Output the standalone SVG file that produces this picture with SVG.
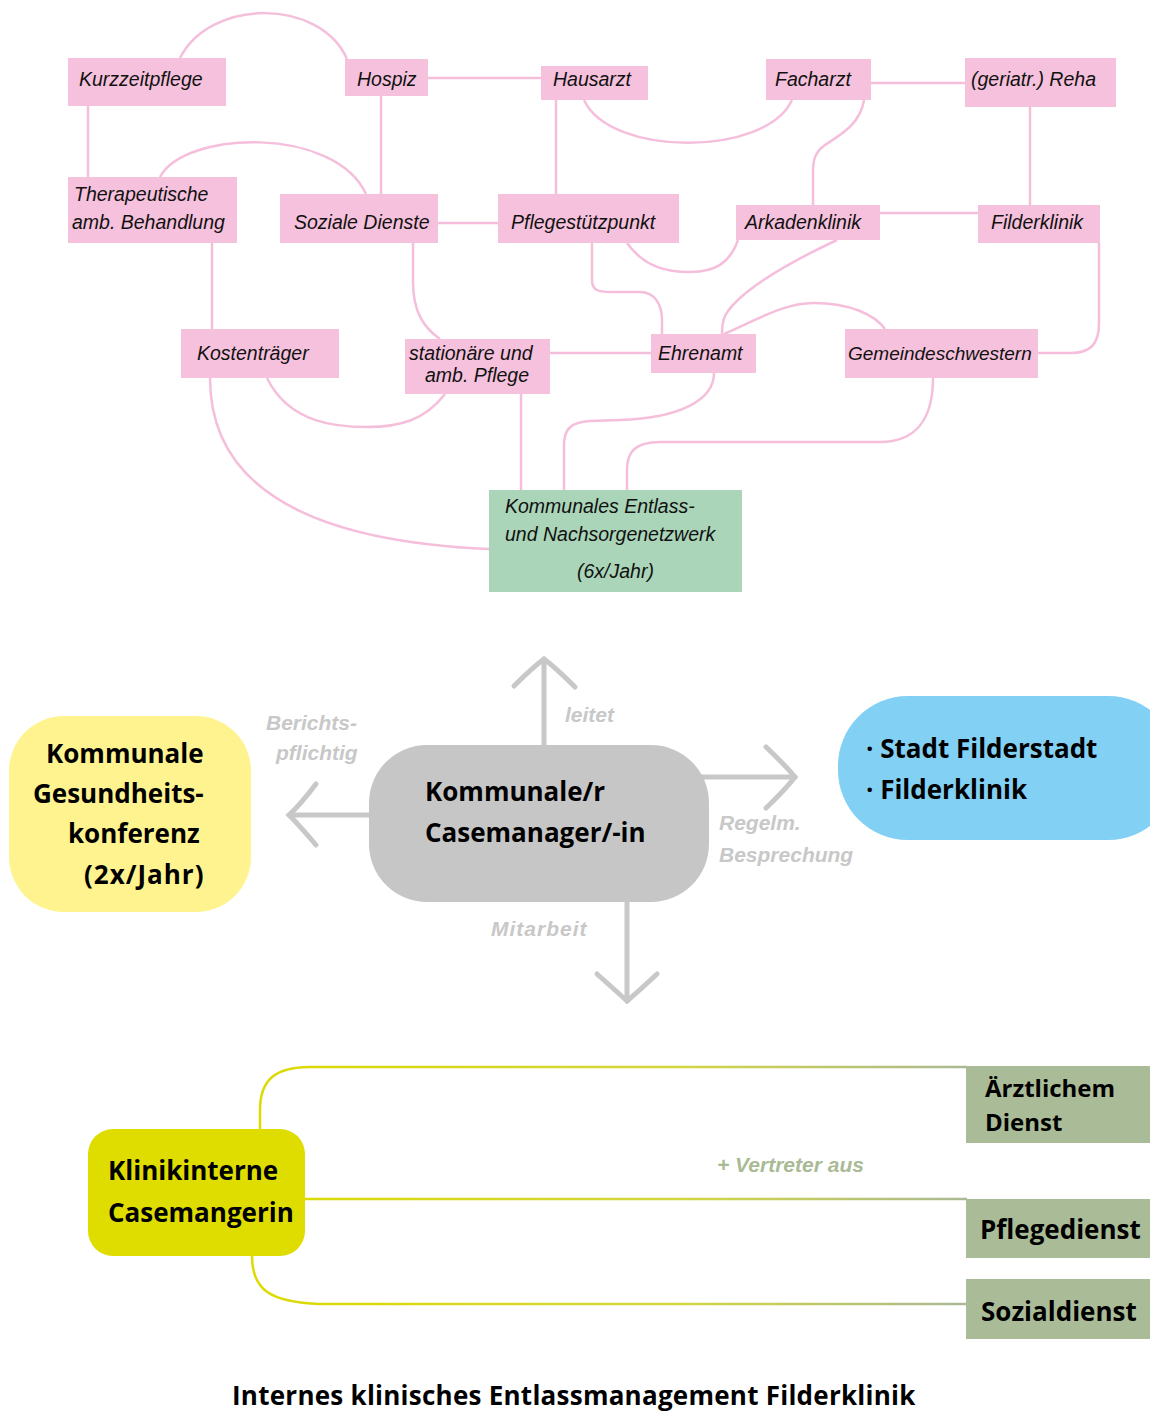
<svg xmlns="http://www.w3.org/2000/svg" width="1150" height="1414" viewBox="0 0 1150 1414">
<style>
.pk{fill:#f6c1dc}
.hw{font-family:"Liberation Sans",Arial,sans-serif;font-style:italic;font-size:19.5px;fill:#111}
.ln{fill:none;stroke:#f5bedb;stroke-width:2.5}
.gl{font-family:"Liberation Sans",Arial,sans-serif;font-style:italic;font-weight:bold;font-size:21px;fill:#c8c8c8}
.ar{fill:none;stroke:#c8c8c8;stroke-width:5;stroke-linecap:round}
.bt{font-family:"Open Sans","Noto Sans",sans-serif;font-weight:bold;font-size:26px;fill:#000}
.yl{fill:none;stroke:url(#yg);stroke-width:2.5}
.gg{fill:#aabb97}
</style>
<defs>
<linearGradient id="yg" gradientUnits="userSpaceOnUse" x1="260" y1="0" x2="967" y2="0">
<stop offset="0" stop-color="#dcda00"/>
<stop offset="0.6" stop-color="#d2d640"/>
<stop offset="1" stop-color="#aab995"/>
</linearGradient>
</defs>
<rect width="1150" height="1414" fill="#fff"/>

<g id="connectors">
<path class="ln" d="M180,58 C210,-2 320,-2 347,59"/>
<path class="ln" d="M88,106 L88,177"/>
<path class="ln" d="M428,78 L541,78"/>
<path class="ln" d="M381,96 L381,194"/>
<path class="ln" d="M160,177 C185,130 335,126 366,194"/>
<path class="ln" d="M212,243 L212,329"/>
<path class="ln" d="M438,223 L498,223"/>
<path class="ln" d="M413,243 L413,282 C413,312 424,328 440,339"/>
<path class="ln" d="M556,100 L556,194"/>
<path class="ln" d="M584,100 C610,157 766,157 792,100"/>
<path class="ln" d="M871,83 L965,83"/>
<path class="ln" d="M864,100 C860,125 840,135 825,145 C815,152 813,160 813,172 L813,205"/>
<path class="ln" d="M1030,107 L1030,205"/>
<path class="ln" d="M880,213 L978,213"/>
<path class="ln" d="M1099,243 L1099,323 C1099,345 1090,353 1070,353 L1038,353"/>
<path class="ln" d="M592,243 L592,280 C592,290 598,292 610,292 L640,292 C655,292 662,305 662,320 L662,334"/>
<path class="ln" d="M627,243 C645,268 668,272 690,272 C715,272 730,263 738,240"/>
<path class="ln" d="M837,240 C790,262 760,280 740,298 C725,312 722,318 722,334"/>
<path class="ln" d="M724,334 C760,318 785,303 814,303 C850,303 875,315 885,329"/>
<path class="ln" d="M550,353 L651,353"/>
<path class="ln" d="M267,378 C290,425 340,427 367,427 C400,427 425,420 445,394"/>
<path class="ln" d="M210,378 C210,470 280,540 489,549"/>
<path class="ln" d="M521,394 L521,490"/>
<path class="ln" d="M714,373 C714,400 680,418 620,420 L590,421 C570,422 564,430 564,445 L564,490"/>
<path class="ln" d="M933,378 C933,420 915,442 880,442 L660,442 C635,442 627,452 627,470 L627,490"/>

<path class="ar" d="M544,745 L544,659"/>
<path class="ar" d="M514,686 Q532,668 544,659 Q556,668 575,687"/>
<path class="ar" d="M369,815 L289,815"/>
<path class="ar" d="M316,784 Q300,805 289,815 Q300,826 316,845"/>
<path class="ar" d="M699,777 L795,777"/>
<path class="ar" d="M766,747 Q785,765 795,777 Q785,790 766,808"/>
<path class="ar" d="M627,902 L627,1001"/>
<path class="ar" d="M597,974 Q615,990 627,1001 Q640,990 657,974"/>

<path class="yl" d="M260,1129 L260,1110 C260,1080 275,1067 310,1067 L967,1067"/>
<path class="yl" d="M305,1199 L967,1199"/>
<path class="yl" d="M252,1256 C252,1290 270,1302 320,1304 L967,1304"/>
</g>

<g id="n-kurzzeitpflege"><rect class="pk" x="68" y="58" width="158" height="48"/><text class="hw" x="79" y="86">Kurzzeitpflege</text></g>
<g id="n-hospiz"><rect class="pk" x="345" y="59" width="83" height="37"/><text class="hw" x="357" y="86">Hospiz</text></g>
<g id="n-hausarzt"><rect class="pk" x="541" y="66" width="107" height="34"/><text class="hw" x="553" y="86">Hausarzt</text></g>
<g id="n-facharzt"><rect class="pk" x="766" y="59" width="105" height="41"/><text class="hw" x="775" y="86">Facharzt</text></g>
<g id="n-reha"><rect class="pk" x="965" y="58" width="151" height="49"/><text class="hw" x="971" y="86">(geriatr.) Reha</text></g>
<g id="n-therapeutische"><rect class="pk" x="68" y="177" width="169" height="66"/><text class="hw" x="74" y="201">Therapeutische</text><text class="hw" x="72" y="229">amb. Behandlung</text></g>
<g id="n-soziale"><rect class="pk" x="280" y="194" width="158" height="49"/><text class="hw" x="294" y="229">Soziale Dienste</text></g>
<g id="n-pflegestuetzpunkt"><rect class="pk" x="498" y="194" width="181" height="49"/><text class="hw" x="511" y="229">Pflegestützpunkt</text></g>
<g id="n-arkadenklinik"><rect class="pk" x="736" y="205" width="144" height="35"/><text class="hw" x="745" y="229">Arkadenklinik</text></g>
<g id="n-filderklinik"><rect class="pk" x="978" y="205" width="122" height="38"/><text class="hw" x="991" y="229">Filderklinik</text></g>
<g id="n-kostentraeger"><rect class="pk" x="181" y="329" width="158" height="49"/><text class="hw" x="197" y="360">Kostenträger</text></g>
<g id="n-stationaere"><rect class="pk" x="405" y="339" width="145" height="55"/><text class="hw" x="409" y="360">stationäre und</text><text class="hw" x="425" y="382">amb. Pflege</text></g>
<g id="n-ehrenamt"><rect class="pk" x="651" y="334" width="105" height="39"/><text class="hw" x="658" y="360">Ehrenamt</text></g>
<g id="n-gemeindeschwestern"><rect class="pk" x="845" y="329" width="193" height="49"/><text class="hw" x="848" y="360" style="font-size:19px">Gemeindeschwestern</text></g>
<g id="n-netzwerk"><rect fill="#aad5b8" x="489" y="490" width="253" height="102"/><text class="hw" x="505" y="513">Kommunales Entlass-</text><text class="hw" x="505" y="541">und Nachsorgenetzwerk</text><text class="hw" x="577" y="578">(6x/Jahr)</text></g>

<g id="n-gesundheitskonferenz"><rect fill="#fff38f" x="9" y="716" width="242" height="196" rx="55"/>
<text class="bt" x="46" y="763">Kommunale</text><text class="bt" x="33" y="803">Gesundheits-</text><text class="bt" x="68" y="843">konferenz</text><text class="bt" x="84" y="884" letter-spacing="1">(2x/Jahr)</text></g>
<g id="n-casemanager"><rect fill="#c6c6c6" x="369" y="745" width="340" height="157" rx="58"/>
<text class="bt" x="425" y="801">Kommunale/r</text><text class="bt" x="425" y="842">Casemanager/-in</text></g>
<g id="n-stadt"><rect fill="#82d0f4" x="838" y="696" width="340" height="144" rx="70"/>
<text class="bt" x="866" y="758">· Stadt Filderstadt</text><text class="bt" x="866" y="799">· Filderklinik</text></g>

<g id="labels">
<text class="gl" x="266" y="730">Berichts-</text>
<text class="gl" x="276" y="760">pflichtig</text>
<text class="gl" x="565" y="722">leitet</text>
<text class="gl" x="719" y="830">Regelm.</text>
<text class="gl" x="719" y="862">Besprechung</text>
<text class="gl" x="491" y="936" letter-spacing="1">Mitarbeit</text>
<text class="gl" x="717" y="1172" style="fill:#a9ba95">+ Vertreter aus</text>
</g>

<g id="n-klinikinterne"><rect fill="#dfdc00" x="88" y="1129" width="217" height="127" rx="25"/>
<text class="bt" x="108" y="1180">Klinikinterne</text><text class="bt" x="108" y="1222">Casemangerin</text></g>
<g id="n-aerztlich"><rect class="gg" x="966" y="1066" width="184" height="77"/><text class="bt" x="985" y="1097" style="font-size:24px">Ärztlichem</text><text class="bt" x="985" y="1131" style="font-size:24px">Dienst</text></g>
<g id="n-pflegedienst"><rect class="gg" x="966" y="1199" width="184" height="59"/><text class="bt" x="980" y="1239">Pflegedienst</text></g>
<g id="n-sozialdienst"><rect class="gg" x="966" y="1279" width="184" height="60"/><text class="bt" x="981" y="1321">Sozialdienst</text></g>

<text class="bt" x="232" y="1405" letter-spacing="0.25">Internes klinisches Entlassmanagement Filderklinik</text>
</svg>
